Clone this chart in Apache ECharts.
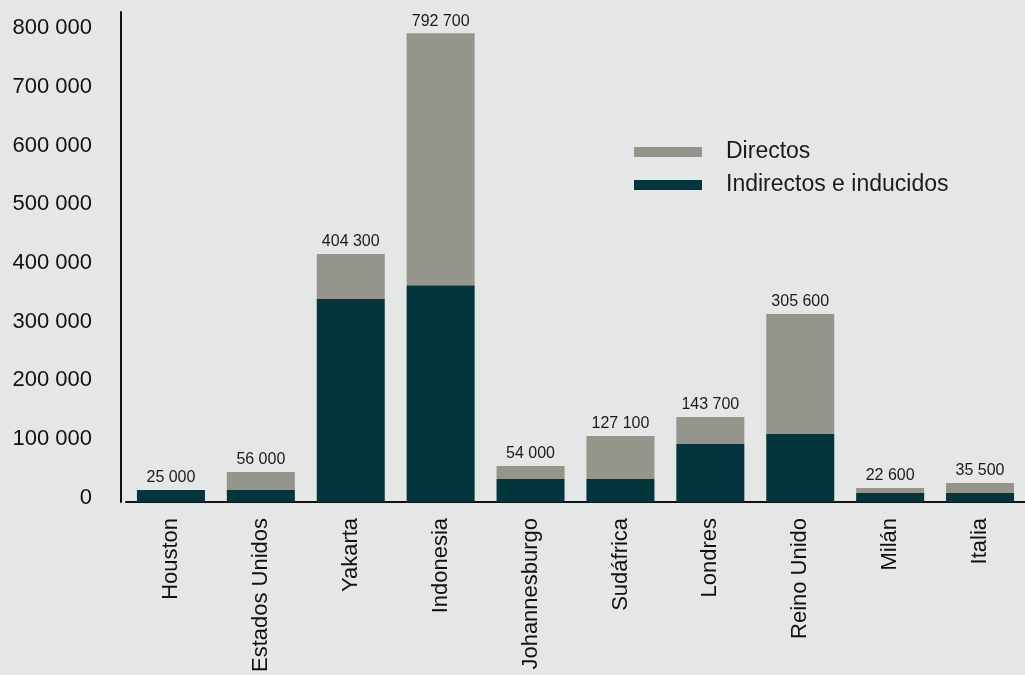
<!DOCTYPE html>
<html>
<head>
<meta charset="utf-8">
<script src="https://cdn.jsdelivr.net/npm/echarts@6/dist/echarts.min.js"></script>
<style>
html,body{margin:0;padding:0;background:#E5E7E6;}
#c{width:1025px;height:675px;}
</style>
</head>
<body>
<div id="c"></div>
<script>
const categories = ['Houston','Estados Unidos','Yakarta','Indonesia','Johannesburgo','Sudáfrica','Londres','Reino Unido','Milán','Italia'];
const indirectos = [20400, 20400, 345500, 369000, 39100, 39100, 98700, 115700, 15300, 15300];
const directos = [0, 30600, 76500, 429000, 22200, 73200, 46000, 204300, 8500, 17000];
const totalLabels = [25000, 56000, 404300, 792700, 54000, 127100, 143700, 305600, 22600, 35500];
const yTicks = [0, 100000, 200000, 300000, 400000, 500000, 600000, 700000, 800000];

function fmt(v){ return String(v).replace(/\B(?=(\d{3})+(?!\d))/g, ' '); }

const chart = echarts.init(document.getElementById('c'), null, {renderer:'canvas'});
chart.setOption({
  backgroundColor: '#E5E7E6',
  animation: false,
  textStyle: { fontFamily: 'Liberation Sans, Arial, sans-serif' },
  grid: { left: 126, right: -5, top: 12, bottom: 173 },
  legend: {
    orient: 'vertical',
    left: 629, top: 135,
    itemWidth: 68, itemHeight: 10, itemGap: 9,
    icon: 'rect',
    data: ['Directos', 'Indirectos e inducidos'],
    textStyle: { fontSize: 23, color: '#1a1a1a', lineHeight: 24, padding: [0,0,0,19] }
  },
  xAxis: {
    type: 'category',
    data: categories,
    axisLine: { lineStyle: { color: '#111', width: 2 } },
    axisTick: { show: false },
    axisLabel: { rotate: 90, fontSize: 22, color: '#111', margin: 16, interval: 0 }
  },
  yAxis: {
    type: 'value',
    min: 0, max: 834000, interval: 100000,
    offset: 5,
    splitLine: { show: false },
    axisTick: { show: false },
    axisLine: { show: true, lineStyle: { color: '#111', width: 2 } },
    axisLabel: {
      fontSize: 22, color: '#111', margin: 29, showMaxLabel: false,
      verticalAlign: 'bottom', lineHeight: 8,
      formatter: function(v){ return yTicks.indexOf(v) >= 0 ? fmt(v) : ''; }
    }
  },
  series: [
    {
      name: 'Indirectos e inducidos', type: 'bar', stack: 'total',
      data: indirectos, barWidth: 68,
      itemStyle: { color: '#02363C' }
    },
    {
      name: 'Directos', type: 'bar', stack: 'total',
      data: directos, barWidth: 68,
      itemStyle: { color: '#95958B' },
      label: {
        show: true, position: 'top', distance: 4,
        fontSize: 16, color: '#1a1a1a',
        formatter: function(p){ return fmt(totalLabels[p.dataIndex]); }
      }
    }
  ]
});
</script>
</body>
</html>
